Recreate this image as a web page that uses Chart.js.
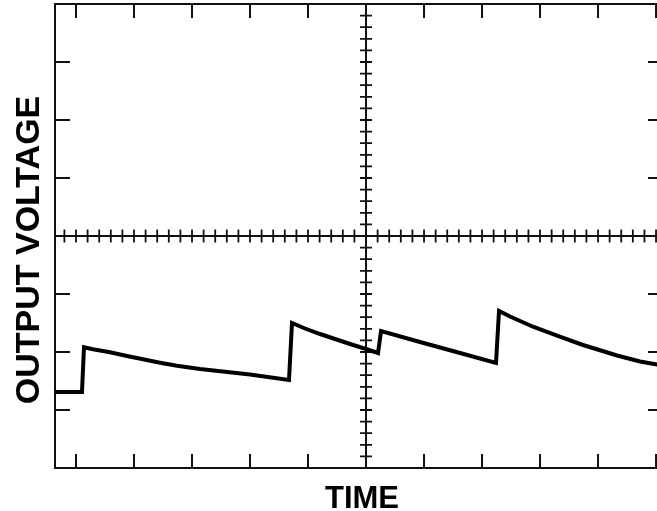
<!DOCTYPE html>
<html>
<head>
<meta charset="utf-8">
<script src="https://cdn.jsdelivr.net/npm/chart.js@4.4.1/dist/chart.umd.min.js"></script>
<style>
  html, body { margin: 0; padding: 0; background: #fff; overflow: hidden; }
  #wrap { width: 680px; height: 511px; }
</style>
</head>
<body>
<div id="wrap"><canvas id="c" width="680" height="511"></canvas></div>
<script>
// Time in screen divisions (0 = centre of graticule), voltage in divisions
const timeValues = [-5.362, -4.897,
                    -4.862, -4.707, -4.414, -4.121, -3.845, -3.552, -3.259, -2.862, -2.0, -1.328,
                    -1.276, -1.052, -0.793, -0.276, 0, 0.207,
                    0.259, 0.931, 1.621, 2.241,
                    2.293, 2.483, 2.879, 3.293, 3.741, 4.328, 4.724, 5.017, 5.12];
const voltageValues = [-2.69, -2.69,
                       -1.919, -1.953, -2.005, -2.069, -2.126, -2.184, -2.236, -2.293, -2.388, -2.483,
                       -1.5, -1.595, -1.69, -1.862, -1.948, -2.017,
                       -1.638, -1.828, -2.017, -2.19,
                       -1.293, -1.388, -1.564, -1.716, -1.879, -2.06, -2.164, -2.216, -2.233];
const xRange = [-5.362, 5.12];
const yRange = [-4, 4];
const majorX = [-5, -4, -3, -2, -1, 1, 2, 3, 4, 5];
const majorY = [-3, -2, -1, 1, 2, 3];
const xTitle = 'TIME';
const yTitle = 'OUTPUT VOLTAGE';

const points = timeValues.map((t, i) => ({ x: t, y: voltageValues[i] }));

const graticule = {
  id: 'graticule',
  beforeDatasetsDraw(chart) {
    const { ctx, chartArea: a, scales: { x, y } } = chart;
    const x0 = x.getPixelForValue(0), y0 = y.getPixelForValue(0);
    ctx.save();
    ctx.strokeStyle = '#111';
    ctx.lineCap = 'butt';
    // border
    ctx.lineWidth = 2;
    ctx.strokeRect(a.left, a.top, a.right - a.left, a.bottom - a.top);
    // centre cross
    ctx.beginPath();
    ctx.moveTo(a.left, y0); ctx.lineTo(a.right, y0);
    ctx.moveTo(x0, a.top); ctx.lineTo(x0, a.bottom);
    ctx.stroke();
    // minor ticks on centre lines
    ctx.lineWidth = 1.8;
    ctx.beginPath();
    for (let k = -30; k <= 30; k++) {
      const v = k / 5;
      if (k === 0) continue;
      if (v >= xRange[0] && v <= xRange[1]) {
        const px = x.getPixelForValue(v);
        ctx.moveTo(px, y0 - 6.5); ctx.lineTo(px, y0 + 6.5);
      }
      if (v > yRange[0] && v < yRange[1]) {
        const py = y.getPixelForValue(v);
        ctx.moveTo(x0 - 6, py); ctx.lineTo(x0 + 6, py);
      }
    }
    ctx.stroke();
    // border ticks
    ctx.lineWidth = 2;
    ctx.beginPath();
    majorX.forEach(v => {
      const px = x.getPixelForValue(v);
      ctx.moveTo(px, a.bottom); ctx.lineTo(px, a.bottom - 14);
      ctx.moveTo(px, a.top); ctx.lineTo(px, a.top + 14);
    });
    majorY.forEach(v => {
      const py = y.getPixelForValue(v);
      ctx.moveTo(a.left, py); ctx.lineTo(a.left + 15, py);
      ctx.moveTo(a.right, py); ctx.lineTo(a.right - 15, py);
    });
    ctx.stroke();
    ctx.restore();
  },
  afterDraw(chart) {
    const { ctx } = chart;
    ctx.save();
    ctx.fillStyle = '#000';
    ctx.textAlign = 'center';
    ctx.textBaseline = 'alphabetic';
    ctx.font = 'bold 31px "Liberation Sans", Arial, sans-serif';
    ctx.fillText(xTitle, 362, 508);
    ctx.translate(39, 250);
    ctx.rotate(-Math.PI / 2);
    ctx.font = 'bold 34px "Liberation Sans", Arial, sans-serif';
    ctx.fillText(yTitle, 0, 0);
    ctx.restore();
  }
};

new Chart(document.getElementById('c'), {
  type: 'line',
  data: {
    datasets: [{
      data: points,
      borderColor: '#000',
      borderWidth: 4,
      pointRadius: 0,
      tension: 0,
      fill: false,
      borderJoinStyle: 'miter'
    }]
  },
  options: {
    responsive: false,
    animation: false,
    layout: { padding: { left: 55, top: 4, right: 17, bottom: 43 } },
    plugins: { legend: { display: false }, tooltip: { enabled: false } },
    scales: {
      x: { type: 'linear', min: xRange[0], max: xRange[1], display: false },
      y: { type: 'linear', min: yRange[0], max: yRange[1], display: false }
    }
  },
  plugins: [graticule]
});
</script>
</body>
</html>
